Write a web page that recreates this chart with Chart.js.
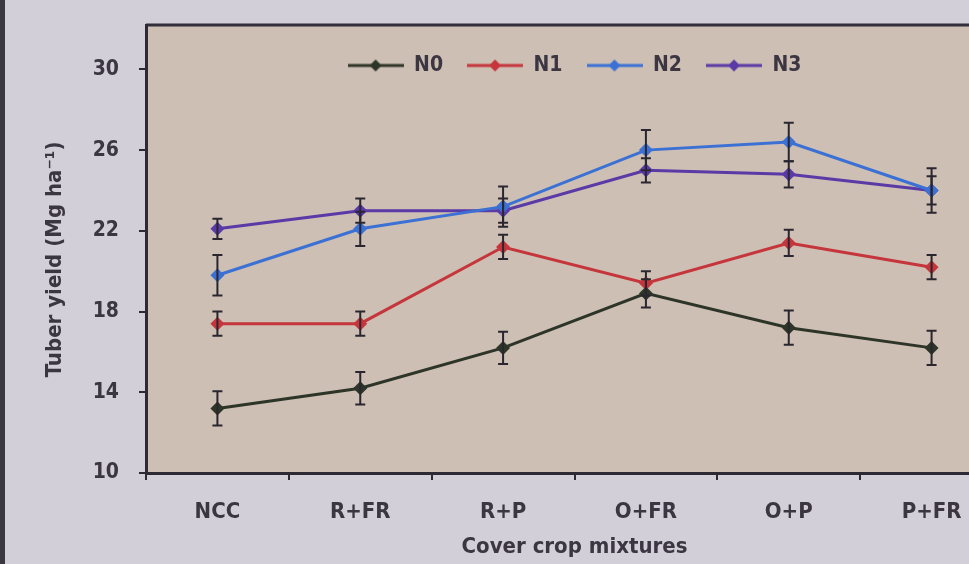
<!DOCTYPE html>
<html>
<head>
<meta charset="utf-8">
<script src="https://cdn.jsdelivr.net/npm/chart.js@4/dist/chart.umd.min.js"></script>
<style>
  html, body { margin: 0; padding: 0; overflow: hidden; background: #d3cfd9; }
  #wrap { position: relative; width: 1010px; height: 564px; }
  #edge { position: absolute; left: 0; top: 0; width: 5px; height: 564px; background: #3b3742; }
</style>
</head>
<body>
<div id="wrap">
  <canvas id="myChart" width="1010" height="564"></canvas>
  <div id="edge"></div>
</div>
<script>
// cover crop mixtures on the x axis
const categories = ['NCC', 'R+FR', 'R+P', 'O+FR', 'O+P', 'P+FR'];
const seriesNames = ['N0', 'N1', 'N2', 'N3'];

// tuber yield, Mg/ha
const n0 = [13.2, 14.2, 16.2, 18.9, 17.2, 16.2];
const n1 = [17.4, 17.4, 21.2, 19.4, 21.4, 20.2];
const n2 = [19.8, 22.1, 23.2, 26.0, 26.4, 24.0];
const n3 = [22.1, 23.0, 23.0, 25.0, 24.8, 24.0];

// error bars (+/-)
const n0Err = [0.85, 0.8, 0.8, 0.7, 0.85, 0.85];
const n1Err = [0.6, 0.6, 0.6, 0.6, 0.65, 0.6];
const n2Err = [1.0, 0.85, 1.0, 1.0, 0.95, 1.1];
const n3Err = [0.5, 0.6, 0.6, 0.6, 0.65, 0.7];

const yTicks = [10, 14, 18, 22, 26, 30];

const colors = ['#2d3528', '#c5353b', '#3b70d4', '#5a3aa6'];
const ink = '#2e2a35';
const txt = '#3b3642';
const fontFam = "'Liberation Sans Narrow', 'DejaVu Sans Condensed', 'Liberation Sans', sans-serif";

// legend sits inside the plot but should still run in one row
Chart.Legend._element.prototype.isHorizontal = function () {
    const p = this.options.position;
    return p === 'top' || p === 'bottom' || p === 'chartArea';
};

// little line + diamond images for the legend
function legendMark(color) {
    var c = document.createElement('canvas');
    c.width = 56; c.height = 14;
    var g = c.getContext('2d');
    g.strokeStyle = color; g.lineWidth = 3;
    g.beginPath(); g.moveTo(0, 7); g.lineTo(56, 7); g.stroke();
    g.fillStyle = color;
    g.beginPath(); g.moveTo(28, 1); g.lineTo(34, 7); g.lineTo(28, 13); g.lineTo(22, 7); g.closePath(); g.fill();
    return c;
}

// put the legend box over the whole plot area
const legendSpot = {
    id: 'legendSpot',
    afterLayout(chart) {
        const a = chart.chartArea;
        const l = chart.legend;
        l.left = a.left; l.right = a.right;
        l.top = a.top + 6; l.bottom = l.top + l.height;
    }
};

const errorBars = {
    id: 'errorBars',
    afterDatasetsDraw(chart) {
        const ctx = chart.ctx;
        const y = chart.scales.y;
        chart.data.datasets.forEach((ds, i) => {
            const meta = chart.getDatasetMeta(i);
            ctx.save();
            ctx.strokeStyle = '#2a2630';
            ctx.lineWidth = 2;
            meta.data.forEach((pt, j) => {
                const top = y.getPixelForValue(ds.data[j] + ds.err[j]);
                const bot = y.getPixelForValue(ds.data[j] - ds.err[j]);
                ctx.beginPath();
                ctx.moveTo(pt.x, top); ctx.lineTo(pt.x, bot);
                ctx.moveTo(pt.x - 5, top); ctx.lineTo(pt.x + 5, top);
                ctx.moveTo(pt.x - 5, bot); ctx.lineTo(pt.x + 5, bot);
                ctx.stroke();
            });
            ctx.restore();
        });
    }
};

const plotBox = {
    id: 'plotBox',
    beforeDraw(chart) {
        const a = chart.chartArea;
        const ctx = chart.ctx;
        ctx.save();
        ctx.fillStyle = '#cdbfb3';
        ctx.fillRect(a.left, a.top, a.right - a.left, a.bottom - a.top);
        ctx.strokeStyle = '#332e3b';
        ctx.lineWidth = 3;
        ctx.beginPath();
        ctx.moveTo(a.left, a.top); ctx.lineTo(a.right, a.top);
        ctx.stroke();
        ctx.restore();
    }
};

const allData = [n0, n1, n2, n3];
const allErr = [n0Err, n1Err, n2Err, n3Err];

const ctx = document.getElementById('myChart').getContext('2d');
const myChart = new Chart(ctx, {
    type: 'line',
    data: {
        labels: categories,
        datasets: seriesNames.map((name, i) => ({
            label: name,
            data: allData[i],
            err: allErr[i],
            borderColor: colors[i],
            backgroundColor: colors[i],
            borderWidth: 3,
            pointStyle: 'rectRot',
            pointRadius: 7,
            pointBackgroundColor: colors[i],
            pointBorderWidth: 0,
            tension: 0
        }))
    },
    options: {
        responsive: false,
        animation: false,
        layout: { padding: { top: 25, right: 7, left: 0, bottom: 0 } },
        plugins: {
            tooltip: { enabled: false },
            legend: {
                position: 'chartArea',
                align: 'center',
                labels: {
                    usePointStyle: true,
                    pointStyleWidth: 56,
                    padding: 24,
                    color: txt,
                    font: { family: fontFam, size: 21, weight: 'bold' },
                    generateLabels(chart) {
                        return chart.data.datasets.map((ds, i) => ({
                            text: ds.label,
                            pointStyle: legendMark(colors[i]),
                            fillStyle: colors[i],
                            strokeStyle: colors[i],
                            lineWidth: 0,
                            fontColor: txt,
                            hidden: false,
                            datasetIndex: i
                        }));
                    }
                }
            }
        },
        scales: {
            x: {
                offset: true,
                grid: { offset: true, drawOnChartArea: false, drawTicks: true, tickLength: 7, color: ink, lineWidth: 2 },
                border: { color: ink, width: 3 },
                ticks: { color: txt, padding: 19, font: { family: fontFam, size: 22, weight: 'bold' } },
                title: {
                    display: true,
                    text: 'Cover crop mixtures',
                    color: txt,
                    padding: { top: 4, bottom: 4 },
                    font: { family: fontFam, size: 22, weight: 'bold' }
                },
                afterFit(s) { s.height = 91; }
            },
            y: {
                min: 10,
                max: 32.2,
                afterBuildTicks(s) { s.ticks = yTicks.map(v => ({ value: v })); },
                grid: { drawOnChartArea: false, drawTicks: true, tickLength: 7, color: ink, lineWidth: 2 },
                border: { color: ink, width: 3 },
                ticks: { color: txt, padding: 20, font: { family: fontFam, size: 21, weight: 'bold' } },
                title: {
                    display: true,
                    text: 'Tuber yield (Mg ha\u207B\u00B9)   ',
                    color: txt,
                    padding: { top: 42, bottom: 0 },
                    font: { family: fontFam, size: 22, weight: 'bold' }
                },
                afterFit(s) { s.width = 146; s.paddingTop = 0; s.paddingBottom = 0; }
            }
        }
    },
    plugins: [plotBox, legendSpot, errorBars]
});
</script>
</body>
</html>
